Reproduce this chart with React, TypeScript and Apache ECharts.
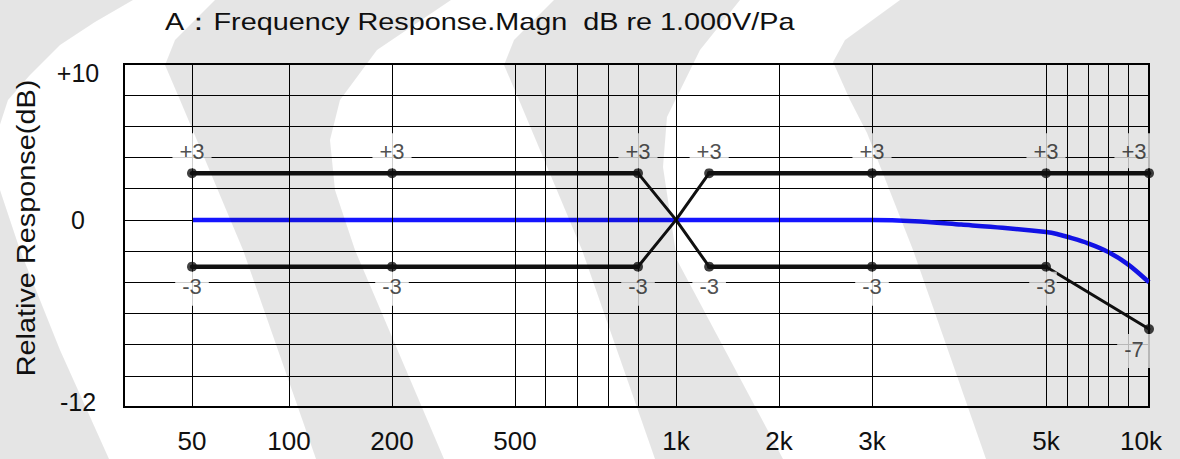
import { useEffect, useRef } from "react";
import * as echarts from "echarts";

// ---------------- data ----------------
// Measured magnitude response (dB re 1 kHz)
const responseFreqs = [50, 100, 200, 500, 1000, 2000, 3000, 3400, 3900, 4400, 5000, 5500, 6000, 7000, 8000, 9000, 10000];
const responseDb = [0, 0, 0, 0, 0, 0, 0, -0.08, -0.3, -0.5, -0.78, -0.9, -1.08, -1.5, -2.05, -2.85, -4.0];

// Tolerance limits
const limitFreqs = [50, 200, 900, 1000, 1250, 3000, 5000, 10000];
const upperLimitDb = [3, 3, 3, 0, 3, 3, 3, 3];
const lowerLimitDb = [-3, -3, -3, 0, -3, -3, -3, -7];
const markedFreqs = [50, 200, 900, 1250, 3000, 5000, 10000];

// Axis decorations
const gridFreqs = [50, 100, 200, 500, 600, 700, 800, 900, 1000, 2000, 3000, 5000, 6000, 7000, 8000, 9000, 10000];
const tickFreqs = [50, 100, 200, 500, 1000, 2000, 3000, 5000, 10000];
const tickLabels = ["50", "100", "200", "500", "1k", "2k", "3k", "5k", "10k"];
const yLabelValues = [10, 0, -12];
const yLabelTexts = ["+10", "0", "-12"];

const TITLE = "A\uFF1AFrequency Response.Magn  dB re 1.000V/Pa";
const Y_NAME = "Relative Response(dB)";

// ------------- printed (non-uniform) frequency scale layout -------------
// axis units assigned to each printed grid frequency (the sheet's scale is hand-spaced)
const SCALE_UNITS = [68, 165, 268, 391, 421, 453, 484, 514, 552, 655, 748, 922, 943, 964, 984, 1004, 1025];
const SCALE_MAX = 1025;

function freqToUnit(f: number): number {
  const F = gridFreqs;
  const U = SCALE_UNITS;
  let i = 0;
  if (f <= F[0]) i = 0;
  else if (f >= F[F.length - 1]) i = F.length - 2;
  else {
    while (i < F.length - 2 && f > F[i + 1]) i++;
  }
  const t = Math.log(f / F[i]) / Math.log(F[i + 1] / F[i]);
  return U[i] + (U[i + 1] - U[i]) * t;
}

const FONT = '"Liberation Sans", Arial, sans-serif';
// watermark: translucent black overlay (acts like a multiply over white/black)
const WM_FILL = "rgba(0,0,0,0.102)";

export default function App() {
  const ref = useRef<HTMLDivElement>(null);

  useEffect(() => {
    if (!ref.current) return;
    const chart = echarts.init(ref.current, undefined, { renderer: "svg" });

    const tickUnits = tickFreqs.map(freqToUnit);
    const labelFor = (v: number) => {
      for (let i = 0; i < tickUnits.length; i++) {
        if (Math.abs(tickUnits[i] - v) < 0.5) {
          return i === tickUnits.length - 1 ? "{r|" + tickLabels[i] + "}" : tickLabels[i];
        }
      }
      return "";
    };

    // limit line segments: flat parts thick, sloped parts thinner
    const segSeries: any[] = [];
    [upperLimitDb, lowerLimitDb].forEach((lim) => {
      for (let i = 0; i < limitFreqs.length - 1; i++) {
        const flat = lim[i] === lim[i + 1];
        segSeries.push({
          type: "line",
          z: 4,
          symbol: "none",
          silent: true,
          lineStyle: { color: "#111", width: flat ? 4.5 : 3, cap: "round" },
          data: [
            [freqToUnit(limitFreqs[i]), lim[i]],
            [freqToUnit(limitFreqs[i + 1]), lim[i + 1]],
          ],
        });
      }
    });

    const markerPoints = (lim: number[], lower: boolean) =>
      limitFreqs
        .map((f, i) => ({ f, v: lim[i] }))
        .filter((p) => markedFreqs.includes(p.f))
        .map((p) => {
          let label: any = undefined;
          if (p.f === 10000) label = { offset: [-15, 0] };
          else if (p.f === 5000 && lower) label = { padding: [4, 1, 8, 7], offset: [-3, 0] };
          return { value: [freqToUnit(p.f), p.v], label };
        });

    const labelBase = {
      show: true,
      fontFamily: FONT,
      fontSize: 22,
      lineHeight: 22,
      color: "#222",
      backgroundColor: "#fff",
      formatter: (p: any) => {
        const v = p.value[1];
        return v > 0 ? "+" + v : String(v);
      },
    };

    const wm = (points: number[][]) => ({
      type: "polygon",
      z: 100,
      silent: true,
      shape: { points },
      style: { fill: WM_FILL },
    });

    const option: any = {
      animation: false,
      backgroundColor: "#fff",
      grid: {
        left: 124,
        right: 31,
        top: 64,
        bottom: 52,
        show: true,
        borderColor: "#000",
        borderWidth: 2,
        backgroundColor: "transparent",
        z: 1,
      },
      graphic: {
        elements: [
          {
            type: "text",
            x: 165,
            y: 22,
            scaleX: 1.2,
            z: 10,
            silent: true,
            style: {
              text: TITLE,
              fontFamily: FONT,
              fontSize: 24,
              fill: "#111",
              align: "left",
              verticalAlign: "middle",
            },
          },
          {
            type: "text",
            x: 26,
            y: 228,
            rotation: Math.PI / 2,
            scaleX: 1.11,
            z: 10,
            silent: true,
            style: {
              text: Y_NAME,
              fontFamily: FONT,
              fontSize: 26,
              fill: "#111",
              align: "center",
              verticalAlign: "middle",
            },
          },
          wm([[0, 0], [133, 0], [95, 22], [60, 45], [30, 75], [8, 100], [-5, 140], [0, 190], [20, 250], [60, 350], [109, 459], [0, 459]]),
          wm([[215, 0], [451, 0], [377, 50], [340, 100], [330, 140], [335, 190], [355, 250], [444, 459], [316, 459], [243, 250], [180, 100], [165, 65], [175, 40]]),
          wm([[554, 0], [740, 0], [700, 50], [667, 117], [663, 167], [677, 260], [783, 459], [655, 459], [582, 250], [519, 100], [504, 65], [514, 40]]),
          wm([[900, 0], [1180, 0], [1180, 459], [986, 459], [913, 250], [867, 133], [850, 100], [833, 62], [845, 40]]),
        ],
      },
      xAxis: {
        type: "value",
        min: 0,
        max: SCALE_MAX,
        axisLine: { show: false },
        axisTick: { show: false },
        splitLine: { show: false },
        axisLabel: {
          customValues: tickUnits,
          formatter: (v: number) => labelFor(v),
          fontFamily: FONT,
          fontSize: 26,
          color: "#111",
          margin: 21,
          rich: {
            r: { fontFamily: FONT, fontSize: 26, color: "#111", padding: [0, 16, 0, 0] },
          },
        },
      },
      yAxis: {
        type: "value",
        min: -12,
        max: 10,
        interval: 2,
        axisLine: { show: false },
        axisTick: { show: false },
        splitLine: { show: true, lineStyle: { color: "#000", width: 1 } },
        axisLabel: {
          margin: 46,
          align: "center",
          fontFamily: FONT,
          fontSize: 25,
          color: "#111",
          formatter: (v: number) => {
            const i = yLabelValues.indexOf(v);
            if (i < 0) return "";
            if (v === 10) return "{t|" + yLabelTexts[i] + "}";
            if (v === -12) return "{b|" + yLabelTexts[i] + "}";
            return yLabelTexts[i];
          },
          rich: {
            t: { fontFamily: FONT, fontSize: 25, color: "#111", padding: [17, 0, 0, 0] },
            b: { fontFamily: FONT, fontSize: 25, color: "#111", padding: [0, 0, 10, 0] },
          },
        },
      },
      series: [
        {
          type: "line",
          z: 1,
          silent: true,
          data: [],
          markLine: {
            silent: true,
            symbol: ["none", "none"],
            label: { show: false },
            lineStyle: { color: "#000", width: 1, type: "solid" },
            data: gridFreqs.map((f) => ({ xAxis: freqToUnit(f) })),
          },
        },
        {
          type: "line",
          z: 3,
          symbol: "none",
          smooth: 0.3,
          silent: true,
          lineStyle: { color: "#1515ff", width: 4.5 },
          data: responseFreqs.map((f, i) => [freqToUnit(f), responseDb[i]]),
        },
        ...segSeries,
        {
          type: "scatter",
          z: 5,
          symbolSize: 10,
          silent: true,
          itemStyle: { color: "#111" },
          label: { ...labelBase, position: "top", distance: 0, padding: [7, 7, 6, 7] },
          data: markerPoints(upperLimitDb, false),
        },
        {
          type: "scatter",
          z: 5,
          symbolSize: 10,
          silent: true,
          itemStyle: { color: "#111" },
          label: { ...labelBase, position: "bottom", distance: 0, padding: [4, 7, 8, 7] },
          data: markerPoints(lowerLimitDb, true),
        },
      ],
    };

    chart.setOption(option);
    return () => chart.dispose();
  }, []);

  return (
    <div
      ref={ref}
      style={{ position: "fixed", left: 0, top: 0, width: 1180, height: 459, background: "#fff" }}
    />
  );
}
